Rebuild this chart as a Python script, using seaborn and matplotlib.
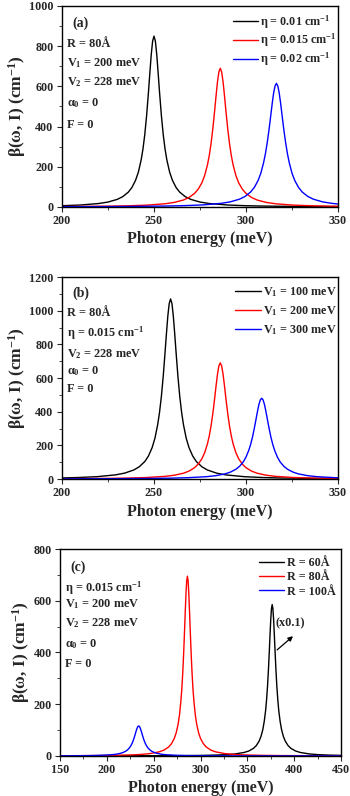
import numpy as np
import pandas as pd
import matplotlib
matplotlib.use("Agg")
import matplotlib.pyplot as plt
import seaborn as sns
from matplotlib.ticker import AutoMinorLocator, MultipleLocator

# ---------------- data ----------------
# Panel (a): eta variation
a_black_x = [200, 210, 220, 225, 230, 233, 236, 238, 240, 241.5, 243, 244, 245, 246, 247, 247.75, 248.5, 249.25, 250,
             250.75, 251.5, 252.25, 253, 254, 255, 256, 257, 258.5, 260, 262, 264, 267, 270, 275, 280, 290, 300, 310, 330, 350]
a_black_y = [6.2, 9.7, 17.1, 24.4, 37.6, 51.1, 73.3, 96.7, 133, 173, 233, 288, 361, 456, 572, 667, 758, 825, 850,
             825, 758, 667, 572, 456, 361, 288, 233, 173, 133, 96.7, 73.3, 51.1, 37.6, 24.4, 17.1, 9.7, 6.2, 4.3, 2.4, 1.6]
a_red_x = [200, 226, 236, 246, 256, 261, 266, 269, 272, 274, 276, 277.5, 279, 280, 281, 282, 283, 283.75, 284.5, 285.25, 286,
           286.75, 287.5, 288.25, 289, 290, 291, 292, 293, 294.5, 296, 298, 300, 303, 306, 311, 316, 326, 336, 346, 350]
a_red_y = [2.0, 4.0, 5.8, 9.0, 15.9, 22.6, 34.6, 47.1, 67.2, 88.4, 120, 156, 208, 255, 316, 393, 484, 557, 624, 672, 690,
           672, 624, 557, 484, 393, 316, 255, 208, 156, 120, 88.4, 67.2, 47.1, 34.6, 22.6, 15.9, 9.0, 5.8, 4.0, 3.5]
a_blue_x = [200, 236.5, 256.5, 266.5, 276.5, 286.5, 291.5, 296.5, 299.5, 302.5, 304.5, 306.5, 308, 309.5, 310.5, 311.5, 312.5,
            313.5, 314.25, 315, 315.75, 316.5, 317.25, 318, 318.75, 319.5, 320.5, 321.5, 322.5, 323.5, 325, 326.5, 328.5,
            330.5, 333.5, 336.5, 341.5, 346.5, 350]
a_blue_y = [1.2, 2.6, 4.6, 6.6, 10.2, 18.0, 25.5, 38.9, 52.6, 74.5, 97.2, 131, 167, 219, 264, 320, 386,
            461, 518, 568, 602, 615, 602, 568, 518, 461, 386, 320, 264, 219, 167, 131, 97.2,
            74.5, 52.6, 38.9, 25.5, 18.0, 14.5]
a_labels = ["η = 0.01 cm$^{-1}$", "η = 0.015 cm$^{-1}$", "η = 0.02 cm$^{-1}$"]

# Panel (b): V1 variation
b_black_x = [200, 209, 219, 229, 234, 239, 242, 245, 247, 249, 250.5, 252, 253, 254, 255, 256, 256.75, 257.5, 258.25, 259,
             259.75, 260.5, 261.25, 262, 263, 264, 265, 266, 267.5, 269, 271, 273, 276, 279, 284, 289, 299, 309, 319, 339, 350]
b_black_y = [6.5, 9.0, 14.0, 24.6, 35.0, 53.7, 73.0, 104, 137, 187, 242, 323, 396, 490, 609, 751, 863, 967, 1042, 1070,
             1042, 967, 863, 751, 609, 490, 396, 323, 242, 187, 137, 104, 73.0, 53.7, 35.0, 24.6, 14.0, 9.0, 6.2, 3.5, 2.7]
b_red_x = a_red_x
b_red_y = a_red_y
b_blue_x = [200, 228.5, 248.5, 258.5, 268.5, 278.5, 283.5, 288.5, 291.5, 294.5, 296.5, 298.5, 300, 301.5, 302.5, 303.5,
            304.5, 305.5, 306.25, 307, 307.75, 308.5, 309.25, 310, 310.75, 311.5, 312.5, 313.5, 314.5, 315.5, 317, 318.5,
            320.5, 322.5, 325.5, 328.5, 333.5, 338.5, 348.5, 350]
b_blue_y = [1.1, 2.0, 3.6, 5.1, 8.0, 14.0, 19.9, 30.4, 41.1, 58.2, 75.9, 102, 131, 171, 206, 249,
            302, 360, 404, 443, 470, 480, 470, 443, 404, 360, 302, 249, 206, 171, 131, 102,
            75.9, 58.2, 41.1, 30.4, 19.9, 14.0, 8.0, 7.4]
b_labels = ["V$_1$ = 100 meV", "V$_1$ = 200 meV", "V$_1$ = 300 meV"]

# Panel (c): R variation
c_black_x = [150, 276.5, 296.5, 316.5, 326.5, 336.5, 346.5, 351.5, 356.5, 359.5, 362.5, 364.5, 366.5, 368, 369.5, 370.5,
             371.5, 372.5, 373.5, 374.25, 375, 375.75, 376.5, 377.25, 378, 378.75, 379.5, 380.5, 381.5, 382.5, 383.5, 385,
             386.5, 388.5, 390.5, 393.5, 396.5, 401.5, 406.5, 416.5, 426.5, 436.5, 450]
c_black_y = [0.2, 1.2, 1.9, 3.4, 4.9, 7.6, 13.5, 19.1, 29.4, 39.9, 57.0, 74.9, 102, 133, 176, 217,
             268, 333, 410, 472, 529, 570, 585, 570, 529, 472, 410, 333, 268, 217, 176, 133,
             102, 74.9, 57.0, 39.9, 29.4, 19.1, 13.5, 7.6, 4.9, 3.4, 2.3]
c_red_x = [150, 186, 206, 226, 236, 246, 256, 261, 266, 269, 272, 274, 276, 277.5, 279, 280, 281, 282, 283, 283.75, 284.5,
           285.25, 286, 286.75, 287.5, 288.25, 289, 290, 291, 292, 293, 294.5, 296, 298, 300, 303, 306, 311, 316, 326, 336,
           346, 366, 386, 450]
c_red_y = [0.8, 1.5, 2.3, 4.1, 5.8, 9.1, 16.0, 22.7, 34.9, 47.4, 67.7, 89.0, 121, 157, 210, 257, 319, 396, 488, 561, 628,
           677, 695, 677, 628, 561, 488, 396, 319, 257, 210, 157, 121, 89.0, 67.7, 47.4, 34.9, 22.7, 16.0, 9.1, 5.8,
           4.1, 2.3, 1.5, 0.5]
c_blue_x = [150, 174, 184, 194, 204, 209, 214, 217, 220, 222, 224, 225.5, 227, 228, 229, 230, 231, 231.75, 232.5, 233.25,
            234, 234.75, 235.5, 236.25, 237, 238, 239, 240, 241, 242.5, 244, 246, 248, 251, 254, 259, 264, 274, 284, 294,
            334, 450]
c_blue_y = [0.6, 1.1, 1.6, 2.6, 4.5, 6.3, 9.6, 12.9, 18.0, 23.2, 30.7, 38.6, 49.1, 58, 68.5, 80.3, 92.8, 101.7, 109.2, 114.2,
            116, 114.2, 109.2, 101.7, 92.8, 80.3, 68.5, 58, 49.1, 38.6, 30.7, 23.2, 18.0, 12.9, 9.6, 6.3, 4.5, 2.6, 1.6, 1.1,
            0.4, 0.1]
c_labels = ["R = 60Å", "R = 80Å", "R = 100Å"]

colors = ["black", "red", "blue"]

# ---------------- style ----------------
sns.set_style("ticks")
plt.rcParams["font.family"] = ["Liberation Serif", "DejaVu Serif"]
plt.rcParams["font.weight"] = "bold"
plt.rcParams["mathtext.fontset"] = "custom"
plt.rcParams["mathtext.rm"] = "Liberation Serif:bold"
plt.rcParams["mathtext.it"] = "Liberation Serif:italic:bold"
plt.rcParams["mathtext.bf"] = "Liberation Serif:bold"
plt.rcParams["mathtext.default"] = "rm"
plt.rcParams["axes.linewidth"] = 1.0
plt.rcParams["xtick.direction"] = "out"
plt.rcParams["ytick.direction"] = "out"

fig = plt.figure(figsize=(3.5, 7.96), dpi=100)


def make_df(xs, ys, labels):
    frames = []
    for x, y, lab in zip(xs, ys, labels):
        frames.append(pd.DataFrame({"x": x, "y": y, "series": lab}))
    return pd.concat(frames, ignore_index=True)


def style_axes(ax, xlim, ylim, xmaj, ymaj, tag, info, info_y, tag_y, leg_anchor, lab_spacing):
    ax.set_xlim(*xlim)
    ax.set_ylim(*ylim)
    ax.xaxis.set_major_locator(MultipleLocator(xmaj))
    ax.yaxis.set_major_locator(MultipleLocator(ymaj))
    ax.xaxis.set_minor_locator(AutoMinorLocator(2))
    ax.yaxis.set_minor_locator(AutoMinorLocator(2))
    ax.tick_params(which="major", length=3.5, width=0.8, labelsize=8.7, pad=2.5)
    ax.tick_params(which="minor", length=2, width=0.6)
    for lab in ax.get_xticklabels() + ax.get_yticklabels():
        lab.set_fontweight("bold")
    for s in ax.spines.values():
        s.set_visible(True)
        s.set_color("black")
    ax.set_xlabel("Photon energy (meV)", fontsize=11.5, fontweight="bold", labelpad=3)
    ax.set_ylabel("β(ω, I) (cm$^{-1}$)", fontsize=12.5, fontweight="bold", labelpad=1)
    ax.text(0.036, tag_y, tag, transform=ax.transAxes, fontsize=10, fontweight="bold",
            va="center", ha="left")
    for t, yy in zip(info, info_y):
        ax.text(0.018, yy, t, transform=ax.transAxes, fontsize=8.8, fontweight="bold",
                va="center", ha="left")
    leg = ax.legend(loc="upper right", bbox_to_anchor=leg_anchor, frameon=False,
                    fontsize=8.7, handlelength=2.1, handletextpad=0.2,
                    labelspacing=lab_spacing, borderaxespad=0, borderpad=0)
    for t in leg.get_texts():
        t.set_fontweight("bold")
    for h in leg.get_lines():
        h.set_linewidth(1.0)


# ---- panel (a)
ax1 = fig.add_axes([0.177, 0.740, 0.789, 0.2525])
df_a = make_df([a_black_x, a_red_x, a_blue_x], [a_black_y, a_red_y, a_blue_y], a_labels)
sns.lineplot(data=df_a, x="x", y="y", hue="series", palette=colors, linewidth=1.0,
             ax=ax1, sort=False, estimator=None)
style_axes(ax1, (200, 350), (0, 1000), 50, 200, "(a)",
           ["R = 80Å", "V$_1$ = 200 meV", "V$_2$ = 228 meV", "α$_0$ = 0", "F = 0"],
           [0.81, 0.715, 0.62, 0.515, 0.41], 0.915, (0.995, 0.965), 0.1)

# ---- panel (b)
ax2 = fig.add_axes([0.177, 0.3982, 0.789, 0.2538])
df_b = make_df([b_black_x, b_red_x, b_blue_x], [b_black_y, b_red_y, b_blue_y], b_labels)
sns.lineplot(data=df_b, x="x", y="y", hue="series", palette=colors, linewidth=1.0,
             ax=ax2, sort=False, estimator=None)
style_axes(ax2, (200, 350), (0, 1200), 50, 200, "(b)",
           ["R = 80Å", "η = 0.015 cm$^{-1}$", "V$_2$ = 228 meV", "α$_0$ = 0", "F = 0"],
           [0.82, 0.72, 0.62, 0.535, 0.445], 0.92, (0.995, 0.96), 0.42)

# ---- panel (c)
ax3 = fig.add_axes([0.1714, 0.0503, 0.803, 0.26])
df_c = make_df([c_black_x, c_red_x, c_blue_x], [c_black_y, c_red_y, c_blue_y], c_labels)
sns.lineplot(data=df_c, x="x", y="y", hue="series", palette=colors, linewidth=1.0,
             ax=ax3, sort=False, estimator=None)
style_axes(ax3, (150, 450), (0, 800), 50, 200, "(c)",
           ["η = 0.015 cm$^{-1}$", "V$_1$ = 200 meV", "V$_2$ = 228 meV", "α$_0$ = 0", "F = 0"],
           [0.81, 0.735, 0.64, 0.54, 0.445], 0.91, (0.98, 0.96), 0.18)
ax3.annotate("", xy=(401, 470), xytext=(379.5, 403),
             arrowprops=dict(arrowstyle="-|>", color="black", lw=0.9, mutation_scale=7))
ax3.text(396, 512, "(x0.1)", fontsize=8.8, fontweight="bold", ha="center", va="center")

fig.savefig("out.png", dpi=100)
